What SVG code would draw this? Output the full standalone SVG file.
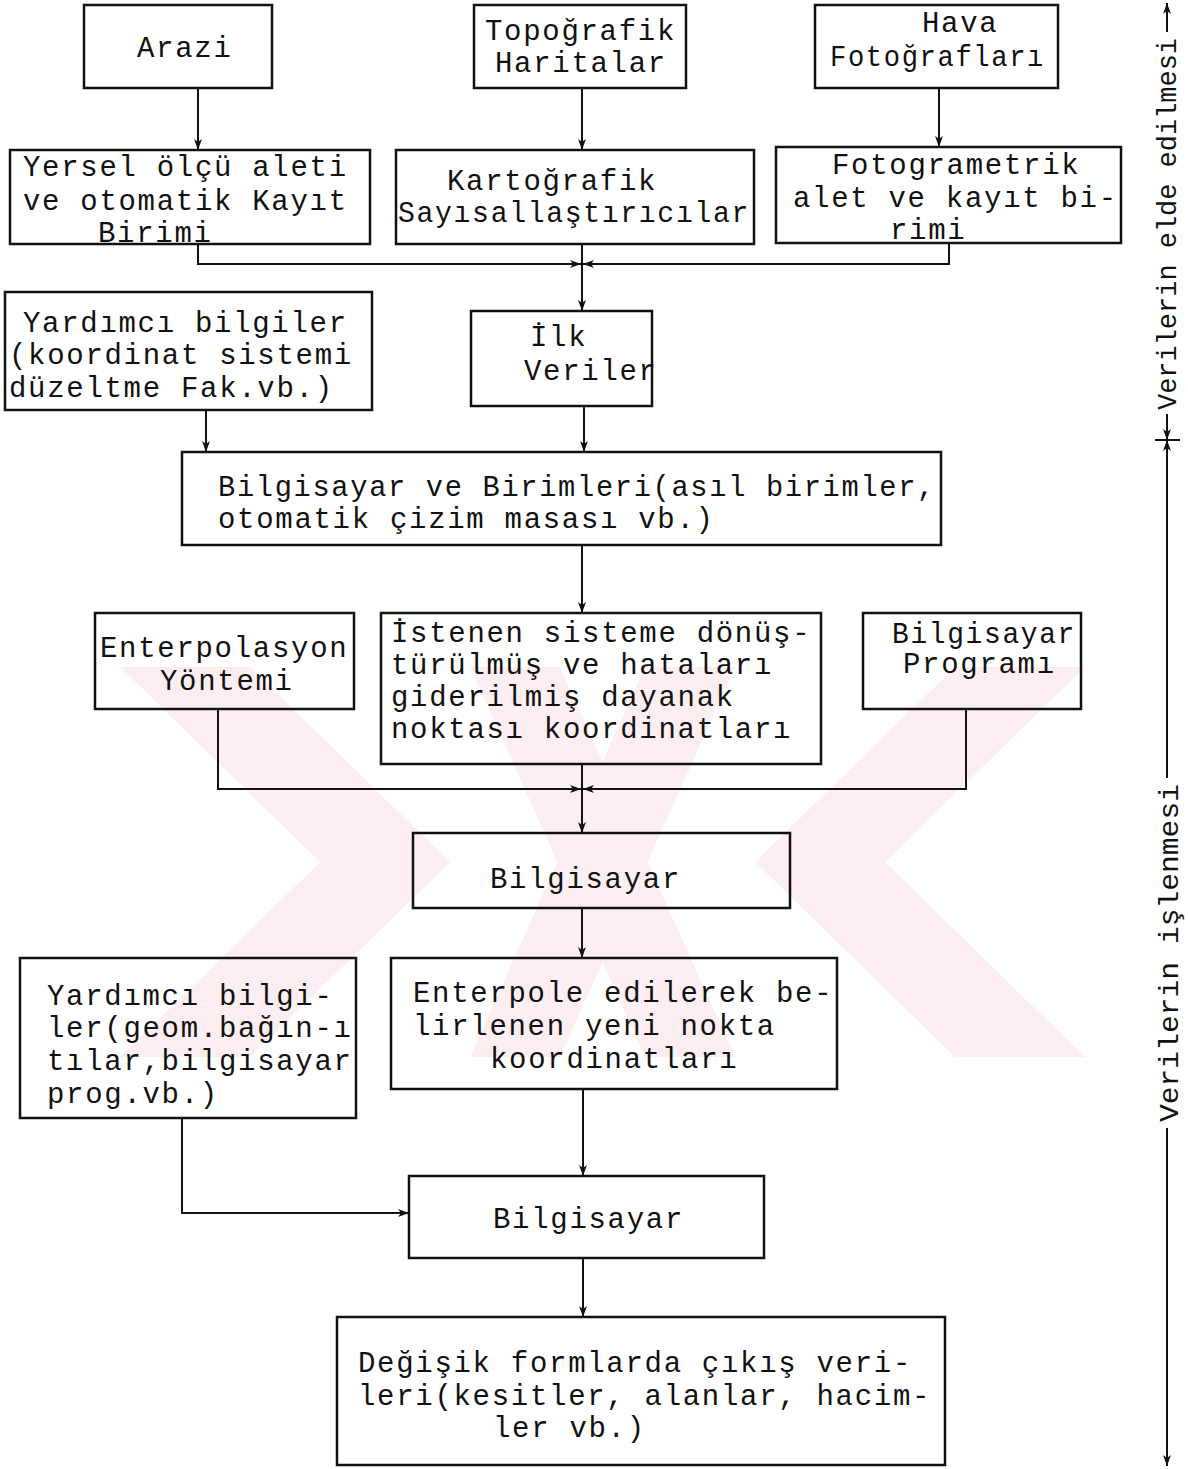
<svg xmlns="http://www.w3.org/2000/svg" width="1188" height="1469" viewBox="0 0 1188 1469">
<style>
.bx{fill:none;stroke:#111;stroke-width:2.5}
.t{font-family:"Liberation Mono","DejaVu Sans Mono",monospace;font-size:29px;letter-spacing:1.7px;fill:#111}
.s{font-family:"Liberation Mono","DejaVu Sans Mono",monospace;font-size:28px;fill:#111}
.c{fill:none;stroke:#111;stroke-width:2}
.wm{fill:#fdeef1}
</style>
<defs>
<marker id="ah" markerWidth="12" markerHeight="10" refX="11" refY="5" orient="auto" markerUnits="userSpaceOnUse">
<path d="M0,1 L11,5 L0,9 L3,5 Z" fill="#111"/>
</marker>
</defs>
<rect width="1188" height="1469" fill="#fff"/>
<g id="watermark">
<polygon class="wm" points="120,667 250,667 450,862 250,1057 120,1057 320,862"/>
<polygon class="wm" points="1085,667 955,667 755,862 955,1057 1085,1057 885,862"/>
<polygon class="wm" points="470,667 560,667 735,1057 645,1057"/>
<polygon class="wm" points="735,667 645,667 470,1057 560,1057"/>
</g>
<g id="connectors">
<path class="c" d="M198,88 V150" marker-end="url(#ah)"/>
<path class="c" d="M582,88 V150" marker-end="url(#ah)"/>
<path class="c" d="M939,88 V147" marker-end="url(#ah)"/>
<path class="c" d="M198,244 V264 H581" marker-end="url(#ah)"/>
<path class="c" d="M949,243 V264 H583" marker-end="url(#ah)"/>
<path class="c" d="M582,244 V311" marker-end="url(#ah)"/>
<path class="c" d="M206,410 V452" marker-end="url(#ah)"/>
<path class="c" d="M584,406 V452" marker-end="url(#ah)"/>
<path class="c" d="M582,545 V613" marker-end="url(#ah)"/>
<path class="c" d="M218,709 V789 H581" marker-end="url(#ah)"/>
<path class="c" d="M966,709 V789 H583" marker-end="url(#ah)"/>
<path class="c" d="M582,764 V833" marker-end="url(#ah)"/>
<path class="c" d="M582,908 V958" marker-end="url(#ah)"/>
<path class="c" d="M583,1089 V1176" marker-end="url(#ah)"/>
<path class="c" d="M182,1118 V1213 H409" marker-end="url(#ah)"/>
<path class="c" d="M583,1258 V1317" marker-end="url(#ah)"/>
</g>
<g id="scale">
<path class="c" d="M1167,32 V3" marker-end="url(#ah)"/>
<path class="c" d="M1167,414 V440" marker-end="url(#ah)"/>
<path class="c" d="M1167,778 V440" marker-end="url(#ah)"/>
<path class="c" d="M1167,1128 V1466" marker-end="url(#ah)"/>
<path class="c" d="M1155,440 H1180"/>
<text class="s" transform="translate(1176,410) rotate(-90)" textLength="372" lengthAdjust="spacingAndGlyphs">Verilerin elde edilmesi</text>
<text class="s" transform="translate(1178,1122) rotate(-90)" textLength="338" lengthAdjust="spacingAndGlyphs">Verilerin işlenmesi</text>
</g>
<g id="n-arazi">
<rect class="bx" x="84" y="5" width="188" height="83"/>
<text class="t" x="137" y="57">Arazi</text>
</g>
<g id="n-topo">
<rect class="bx" x="474" y="5" width="212" height="83"/>
<text class="t" x="485" y="40">Topoğrafik</text>
<text class="t" x="495" y="72">Haritalar</text>
</g>
<g id="n-hava">
<rect class="bx" x="815" y="5" width="243" height="83"/>
<text class="t" x="922" y="32">Hava</text>
<text class="t" x="830" y="66" textLength="215" lengthAdjust="spacingAndGlyphs">Fotoğrafları</text>
</g>
<g id="n-yersel">
<rect class="bx" x="10" y="150" width="360" height="94"/>
<text class="t" x="23" y="176">Yersel ölçü aleti</text>
<text class="t" x="23" y="210">ve otomatik Kayıt</text>
<text class="t" x="98" y="242">Birimi</text>
</g>
<g id="n-karto">
<rect class="bx" x="396" y="150" width="358" height="94"/>
<text class="t" x="447" y="190">Kartoğrafik</text>
<text class="t" x="398" y="222" textLength="352" lengthAdjust="spacingAndGlyphs">Sayısallaştırıcılar</text>
</g>
<g id="n-foto">
<rect class="bx" x="776" y="147" width="345" height="96"/>
<text class="t" x="832" y="174">Fotogrametrik</text>
<text class="t" x="793" y="207">alet ve kayıt bi-</text>
<text class="t" x="890" y="239">rimi</text>
</g>
<g id="n-yardimci1">
<rect class="bx" x="5" y="292" width="367" height="118"/>
<text class="t" x="23" y="332">Yardımcı bilgiler</text>
<text class="t" x="9" y="364">(koordinat sistemi</text>
<text class="t" x="9" y="397">düzeltme Fak.vb.)</text>
</g>
<g id="n-ilk">
<rect class="bx" x="471" y="311" width="181" height="95"/>
<text class="t" x="530" y="346">İlk</text>
<text class="t" x="524" y="380">Veriler</text>
</g>
<g id="n-bilgbir">
<rect class="bx" x="182" y="452" width="759" height="93"/>
<text class="t" x="218" y="496" textLength="718" lengthAdjust="spacingAndGlyphs">Bilgisayar ve Birimleri(asıl birimler,</text>
<text class="t" x="218" y="528">otomatik çizim masası vb.)</text>
</g>
<g id="n-enterp">
<rect class="bx" x="95" y="613" width="259" height="96"/>
<text class="t" x="100" y="657">Enterpolasyon</text>
<text class="t" x="160" y="690">Yöntemi</text>
</g>
<g id="n-istenen">
<rect class="bx" x="381" y="613" width="440" height="151"/>
<text class="t" x="391" y="642">İstenen sisteme dönüş-</text>
<text class="t" x="391" y="674">türülmüş ve hataları</text>
<text class="t" x="391" y="706">giderilmiş dayanak</text>
<text class="t" x="391" y="738">noktası koordinatları</text>
</g>
<g id="n-program">
<rect class="bx" x="863" y="613" width="218" height="96"/>
<text class="t" x="892" y="643" textLength="184" lengthAdjust="spacingAndGlyphs">Bilgisayar</text>
<text class="t" x="903" y="673">Programı</text>
</g>
<g id="n-bilg1">
<rect class="bx" x="413" y="833" width="377" height="75"/>
<text class="t" x="490" y="888">Bilgisayar</text>
</g>
<g id="n-yardimci2">
<rect class="bx" x="20" y="958" width="336" height="160"/>
<text class="t" x="47" y="1005">Yardımcı bilgi-</text>
<text class="t" x="47" y="1037">ler(geom.bağın-ı</text>
<text class="t" x="47" y="1070">tılar,bilgisayar</text>
<text class="t" x="47" y="1103">prog.vb.)</text>
</g>
<g id="n-enterpole">
<rect class="bx" x="391" y="958" width="446" height="131"/>
<text class="t" x="413" y="1002">Enterpole edilerek be-</text>
<text class="t" x="413" y="1035">lirlenen yeni nokta</text>
<text class="t" x="490" y="1068">koordinatları</text>
</g>
<g id="n-bilg2">
<rect class="bx" x="409" y="1176" width="355" height="82"/>
<text class="t" x="493" y="1228">Bilgisayar</text>
</g>
<g id="n-output">
<rect class="bx" x="337" y="1317" width="608" height="148"/>
<text class="t" x="358" y="1372">Değişik formlarda çıkış veri-</text>
<text class="t" x="358" y="1405">leri(kesitler, alanlar, hacim-</text>
<text class="t" x="493" y="1437">ler vb.)</text>
</g>
</svg>
